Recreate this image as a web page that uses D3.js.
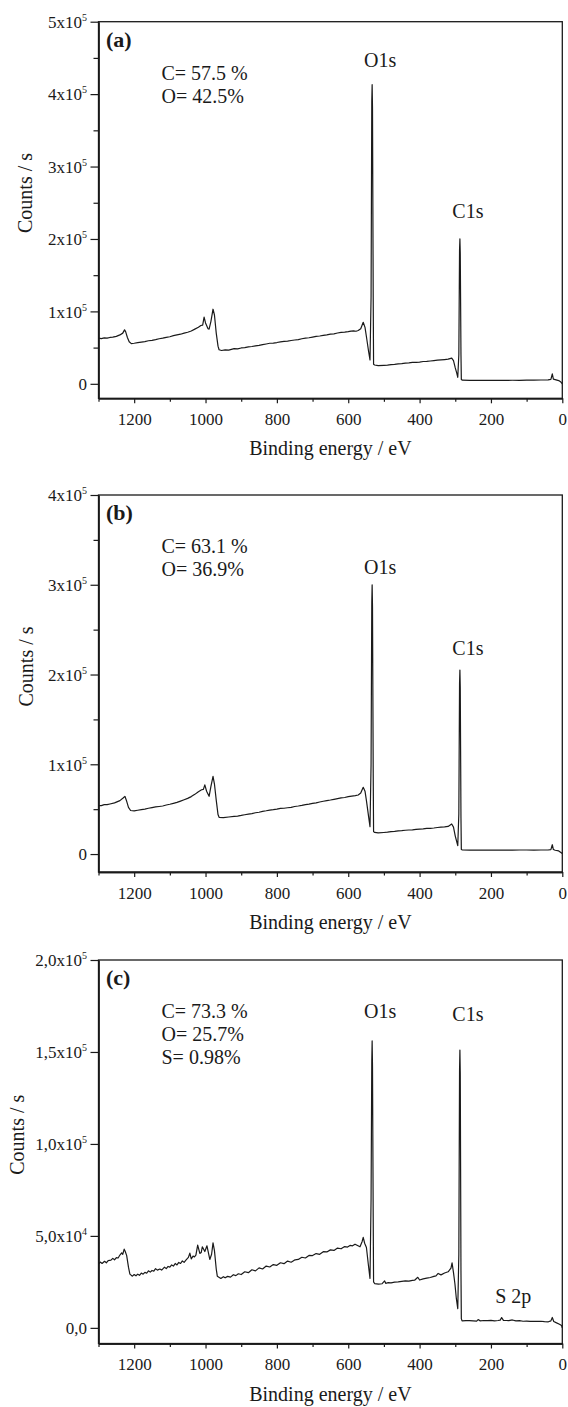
<!DOCTYPE html>
<html>
<head>
<meta charset="utf-8">
<script src="https://cdn.jsdelivr.net/npm/d3@7"></script>
<style>
  body { margin: 0; background: #fff; }
  svg { display: block; font-family: "Liberation Serif", "Times New Roman", serif; }
</style>
</head>
<body>
<svg width="568" height="1407"></svg>
<script>
// binding energy ticks (eV), shared by all three panels
const energyTicks = [1200, 1000, 800, 600, 400, 200, 0];
const energyMinor = [1300, 1100, 900, 700, 500, 300, 100];

// survey spectra: [binding energy (eV), counts/s]
const specA = [
  [1300, 63000], [1292, 62500], [1284, 63500], [1276, 63000], [1268, 64000], [1260, 64500],
  [1250, 65500], [1240, 67500], [1232, 70000], [1227, 74500], [1224, 72000], [1219, 64000],
  [1214, 58000], [1208, 55500], [1200, 56000], [1190, 56800], [1180, 57500], [1170, 58200],
  [1160, 59500], [1150, 60000], [1140, 61000], [1130, 62200], [1120, 63000], [1110, 64200],
  [1100, 65000], [1090, 66500], [1080, 67500], [1070, 68500], [1060, 70000], [1050, 71200],
  [1040, 73000], [1030, 75500], [1020, 78000], [1013, 80500], [1008, 81000], [1004, 92000],
  [1000, 84000], [993, 76000], [990, 75500], [985, 86000], [979, 103000], [975, 95000],
  [970, 70000], [965, 52000], [962, 47000], [955, 46000], [945, 46800], [935, 46500],
  [920, 48500], [910, 48200], [900, 49500], [890, 50000], [880, 51000], [870, 51500],
  [860, 52500], [850, 53000], [840, 54000], [830, 55000], [820, 56000], [810, 56300],
  [800, 57000], [790, 58000], [780, 58500], [770, 59000], [760, 59800], [750, 60500],
  [740, 61000], [730, 62200], [720, 63000], [710, 63600], [700, 64500], [690, 65500],
  [680, 66000], [670, 66800], [660, 67500], [650, 68500], [640, 69000], [630, 70200],
  [620, 71000], [610, 71300], [600, 72000], [592, 72800], [585, 73000], [578, 72600],
  [572, 73600], [565, 76000], [558, 85000], [553, 78000], [549, 65000], [543, 45000],
  [539, 33000], [536, 120000], [534, 390000], [533, 413000], [532, 380000], [530, 120000],
  [529, 27000], [526, 26000],
  [516, 25000], [500, 25500], [490, 25800], [480, 26500], [470, 26800], [460, 27500],
  [450, 27800], [440, 28500], [430, 28900], [420, 29500], [410, 29600], [400, 30000],
  [390, 30800], [380, 31000], [370, 31500], [360, 32000], [350, 32600], [340, 33000],
  [330, 33500], [320, 34000], [310, 35500], [305, 32000], [300, 22000], [296, 15000],
  [293, 9000], [290, 40000], [288, 185000], [287, 200000], [286, 180000], [284, 40000],
  [283, 6000], [280, 5000],
  [260, 4800], [240, 4700], [220, 4900], [200, 4800], [180, 4700], [160, 4800],
  [140, 4900], [120, 4800], [100, 5000], [80, 5200], [60, 5300], [40, 5500],
  [32, 6000], [28, 13800], [25, 6500], [20, 5800], [10, 4500], [5, 3000], [1, 500], [0, 0]
];

const specB = [
  [1300, 53900], [1292, 54000], [1284, 55000], [1276, 55000], [1268, 55800], [1255, 57000],
  [1240, 59500], [1231, 62500], [1226, 64300], [1222, 60000], [1216, 52000], [1210, 48500],
  [1200, 48000], [1190, 48800], [1180, 49500], [1170, 50000], [1160, 51000], [1150, 51800],
  [1140, 52500], [1130, 53000], [1120, 53500], [1110, 54600], [1100, 55500], [1090, 56500],
  [1080, 57500], [1070, 59000], [1060, 60500], [1050, 62000], [1040, 64000], [1030, 66500],
  [1020, 69500], [1011, 71600], [1006, 72000], [1002, 77000], [997, 70000], [990, 64300],
  [985, 75000], [979, 86600], [975, 78000], [970, 60000], [965, 44000], [962, 40900],
  [950, 40500], [935, 41300], [920, 42000], [910, 42300], [900, 43000], [890, 43800],
  [880, 44500], [870, 45000], [860, 46000], [850, 46600], [840, 47500], [830, 48200],
  [820, 49000], [810, 49400], [800, 50000], [790, 50800], [780, 51000], [770, 51600],
  [760, 52000], [750, 53000], [740, 53500], [730, 54200], [720, 55000], [710, 55600],
  [700, 56500], [690, 57000], [680, 58000], [670, 58800], [660, 59500], [650, 60200],
  [640, 61000], [630, 61800], [620, 62500], [610, 63000], [600, 64000], [590, 64600],
  [580, 65000], [572, 65800], [565, 68000], [558, 74300], [553, 70000], [549, 59500],
  [543, 42000], [539, 30500], [536, 100000], [534, 280000], [533, 300000], [532, 275000],
  [530, 90000], [529, 25000],
  [526, 24100], [516, 23500], [500, 24000], [490, 24400], [480, 25000], [470, 25300],
  [460, 25800], [450, 26000], [440, 26500], [430, 26800], [420, 27000], [410, 27500],
  [400, 27800], [390, 28000], [380, 28500], [370, 28700], [360, 29000], [350, 29600],
  [340, 30000], [330, 30300], [320, 30800], [310, 33500], [305, 30000], [300, 20000],
  [296, 14000], [293, 9300], [290, 45000], [288, 190000], [287, 205000], [286, 185000],
  [284, 40000], [283, 5000],
  [280, 4500], [260, 4400], [240, 4500], [220, 4400], [200, 4500], [180, 4400],
  [160, 4500], [140, 4400], [120, 4500], [100, 4500], [80, 4400], [60, 4500], [40, 4500],
  [32, 5000], [28, 10400], [25, 5000], [20, 4200], [10, 3500], [5, 2000], [0, 500]
];

const specC = [
  [1300, 34600], [1295, 35800], [1290, 35000], [1283, 36200], [1278, 35400], [1273, 36600],
  [1265, 36800], [1260, 37800], [1255, 37000], [1250, 38200], [1245, 38000], [1240, 39600],
  [1235, 40800], [1232, 40000], [1228, 42800], [1225, 41500], [1221, 39300], [1216, 33000],
  [1212, 29200], [1205, 28100], [1200, 29000], [1195, 28300], [1190, 29200], [1185, 28600],
  [1180, 29800], [1175, 29200], [1170, 30200], [1165, 29700], [1160, 31000], [1155, 30300],
  [1150, 31200], [1145, 30800], [1140, 32200], [1135, 31400], [1128, 32000], [1123, 31400],
  [1115, 33000], [1110, 32200], [1105, 33400], [1100, 33000], [1095, 34200], [1090, 33600],
  [1085, 35000], [1080, 34200], [1075, 35600], [1070, 35000], [1065, 36400], [1060, 35600],
  [1055, 36800], [1048, 38300], [1044, 40600], [1040, 37500], [1035, 39000], [1031, 38600],
  [1027, 39500], [1022, 45000], [1016, 40500], [1012, 41000], [1009, 44100], [1002, 41500],
  [996, 44600], [988, 37200], [983, 40000], [979, 46200], [975, 42000], [970, 32000],
  [967, 28100], [957, 26900], [950, 27800], [945, 27200], [938, 28000], [930, 27600],
  [922, 28900], [915, 28400], [908, 29400], [900, 29000], [890, 30500], [880, 30000],
  [870, 31600], [860, 31000], [850, 32600], [840, 32000], [830, 33600], [820, 33100],
  [810, 34400], [800, 34000], [790, 35400], [780, 34900], [770, 36300], [760, 35700],
  [749, 37000], [740, 37200], [730, 38400], [720, 38000], [710, 39400], [700, 39300],
  [690, 40400], [680, 40000], [670, 41400], [660, 41300], [650, 42400], [640, 42100],
  [630, 43400], [620, 43000], [610, 44200], [602, 43900], [595, 44800], [588, 44600],
  [581, 45500], [574, 44800], [567, 44100], [561, 47000], [558, 49200], [554, 46000],
  [549, 43700], [544, 35000], [539, 26900], [536, 70000], [534, 145000], [533, 156000],
  [532, 142000], [530, 60000], [529, 25000],
  [526, 24100], [515, 23800], [505, 24000], [498, 25500], [495, 24200],
  [488, 24600], [480, 24500], [470, 24900], [460, 25000], [450, 25300], [440, 25500],
  [430, 25400], [420, 25800], [414, 25900], [405, 27500], [400, 26000], [390, 26600],
  [380, 27000], [370, 27400], [360, 28000], [354, 28300], [348, 29600], [340, 28800],
  [330, 29800], [320, 30500], [312, 32500], [309, 35400], [305, 30000], [301, 24000],
  [297, 16000], [293, 10500], [290, 40000], [288, 140000], [287, 151000], [286, 138000],
  [284, 30000], [283, 5000],
  [281, 3800], [270, 3900], [260, 3900], [250, 3800], [240, 3700], [236, 4500],
  [230, 3800], [220, 4000], [210, 3900], [200, 4100], [190, 3800], [180, 4000],
  [174, 4200], [170, 5600], [165, 4100], [157, 4000], [150, 3900], [140, 4300],
  [130, 3800], [120, 3900], [110, 3600], [100, 3700], [90, 3500], [80, 3600],
  [70, 3500], [60, 3600], [50, 3400], [39, 3300], [32, 3800], [28, 5650],
  [24, 3500], [16, 2700], [8, 2000], [2, 1300], [0, 0]
];

// count-axis ticks per panel
const yTicksA = [0, 100000, 200000, 300000, 400000, 500000];
const yMinorA = [50000, 150000, 250000, 350000, 450000];
const yTicksB = [0, 100000, 200000, 300000, 400000];
const yMinorB = [50000, 150000, 250000, 350000];
const yTicksC = [0, 50000, 100000, 150000, 200000];
const yMinorC = [];

// text blocks
const compA = ["C= 57.5 %", "O= 42.5%"];
const compB = ["C= 63.1 %", "O= 36.9%"];
const compC = ["C= 73.3 %", "O= 25.7%", "S= 0.98%"];

// peak labels: [text, binding energy, counts at label baseline]
const peaksA = [["O1s", 533, 437000], ["C1s", 287, 229000]];
const peaksB = [["O1s", 533, 312000], ["C1s", 287, 222000]];
const peaksC = [["O1s", 533, 168500], ["C1s", 287, 167000], ["S 2p", 160, 13600]];

const svg = d3.select("svg");
const left = 98.5, right = 562.3;
const ink = "#1a1a1a";

const x = d3.scaleLinear().domain([1300, 0]).range([left, right]);

// y tick label "5x10^5" style
function sciLabel(sel, comma) {
  sel.each(function (d) {
    const t = d3.select(this).text("");
    if (d === 0) { t.text(comma ? "0,0" : "0"); return; }
    const exp = Math.floor(Math.log10(d));
    const m = d / Math.pow(10, exp);
    t.append("tspan").text((comma ? m.toFixed(1).replace(".", ",") : m) + "x10");
    t.append("tspan").attr("dy", -7).attr("font-size", 10).text(exp);
  });
}

function drawPanel(p) {
  const y = d3.scaleLinear().domain([p.yMin, p.yMax]).range([p.bottom, p.top]);
  const g = svg.append("g");

  // spectrum
  g.append("path")
    .datum(p.spec)
    .attr("fill", "none")
    .attr("stroke", ink)
    .attr("stroke-width", 1.2)
    .attr("stroke-linejoin", "round")
    .attr("d", d3.line().x((d) => x(d[0])).y((d) => y(d[1])));

  // frame
  g.append("rect")
    .attr("x", left).attr("y", p.top)
    .attr("width", right - left).attr("height", p.bottom - p.top)
    .attr("fill", "none").attr("stroke", ink).attr("stroke-width", 1.3);

  // x axis, major + minor
  const xa = g.append("g").attr("transform", `translate(0,${p.bottom})`)
    .call(d3.axisBottom(x).tickValues(energyTicks).tickSize(5).tickSizeOuter(0).tickFormat(d3.format("d")));
  g.append("g").attr("transform", `translate(0,${p.bottom})`)
    .call(d3.axisBottom(x).tickValues(energyMinor).tickSize(3.5).tickSizeOuter(0).tickFormat(""));
  xa.selectAll(".tick text").attr("y", 26.5).attr("dy", 0);

  // y axis, major + minor
  const ya = g.append("g").attr("transform", `translate(${left},0)`)
    .call(d3.axisLeft(y).tickValues(p.yTicks).tickSize(8).tickSizeOuter(0));
  g.append("g").attr("transform", `translate(${left},0)`)
    .call(d3.axisLeft(y).tickValues(p.yMinor).tickSize(5).tickSizeOuter(0).tickFormat(""));
  ya.selectAll(".tick text").attr("x", -11.5).attr("dy", "0.34em").call(sciLabel, p.comma);

  // drop d3's default sans-serif 10px on the axis groups
  g.selectAll("g").attr("font-family", null).attr("font-size", null);
  g.selectAll(".domain").attr("stroke", ink).attr("stroke-width", 1.3);
  g.selectAll(".tick line").attr("stroke", ink).attr("stroke-width", 1.2);
  g.selectAll(".tick text").attr("fill", ink).attr("font-size", 17);

  // axis titles
  g.append("text")
    .attr("x", (left + right) / 2).attr("y", p.bottom + 57)
    .attr("text-anchor", "middle").attr("font-size", 20).attr("fill", ink)
    .text("Binding energy / eV");
  g.append("text")
    .attr("transform", `translate(${p.titleX},${(p.top + p.bottom) / 2 - 17}) rotate(-90)`)
    .attr("text-anchor", "middle").attr("dominant-baseline", "central")
    .attr("font-size", 20).attr("fill", ink)
    .text("Counts / s");

  // panel tag and composition
  g.append("text")
    .attr("x", left + 7.5).attr("y", p.top + 25)
    .attr("font-size", 22).attr("font-weight", "bold").attr("fill", ink)
    .text(p.tag);
  g.selectAll(".comp").data(p.comp).enter().append("text")
    .attr("x", left + 63).attr("y", (d, i) => p.top + 58 + i * 23)
    .attr("font-size", 20).attr("fill", ink)
    .text((d) => d);

  // peak labels
  g.selectAll(".peak").data(p.peaks).enter().append("text")
    .attr("x", (d) => x(d[1]) + 8).attr("y", (d) => y(d[2]))
    .attr("text-anchor", "middle").attr("font-size", 20).attr("fill", ink)
    .text((d) => d[0]);
}

drawPanel({ tag: "(a)", spec: specA, yMin: -20000, yMax: 500000, top: 21.7, bottom: 398.3,
  yTicks: yTicksA, yMinor: yMinorA, comp: compA, peaks: peaksA, comma: false, titleX: 25 });
drawPanel({ tag: "(b)", spec: specB, yMin: -20000, yMax: 400000, top: 495, bottom: 872,
  yTicks: yTicksB, yMinor: yMinorB, comp: compB, peaks: peaksB, comma: false, titleX: 26 });
drawPanel({ tag: "(c)", spec: specC, yMin: -8500, yMax: 200000, top: 960, bottom: 1343.5,
  yTicks: yTicksC, yMinor: yMinorC, comp: compC, peaks: peaksC, comma: true, titleX: 17 });
</script>
</body>
</html>
